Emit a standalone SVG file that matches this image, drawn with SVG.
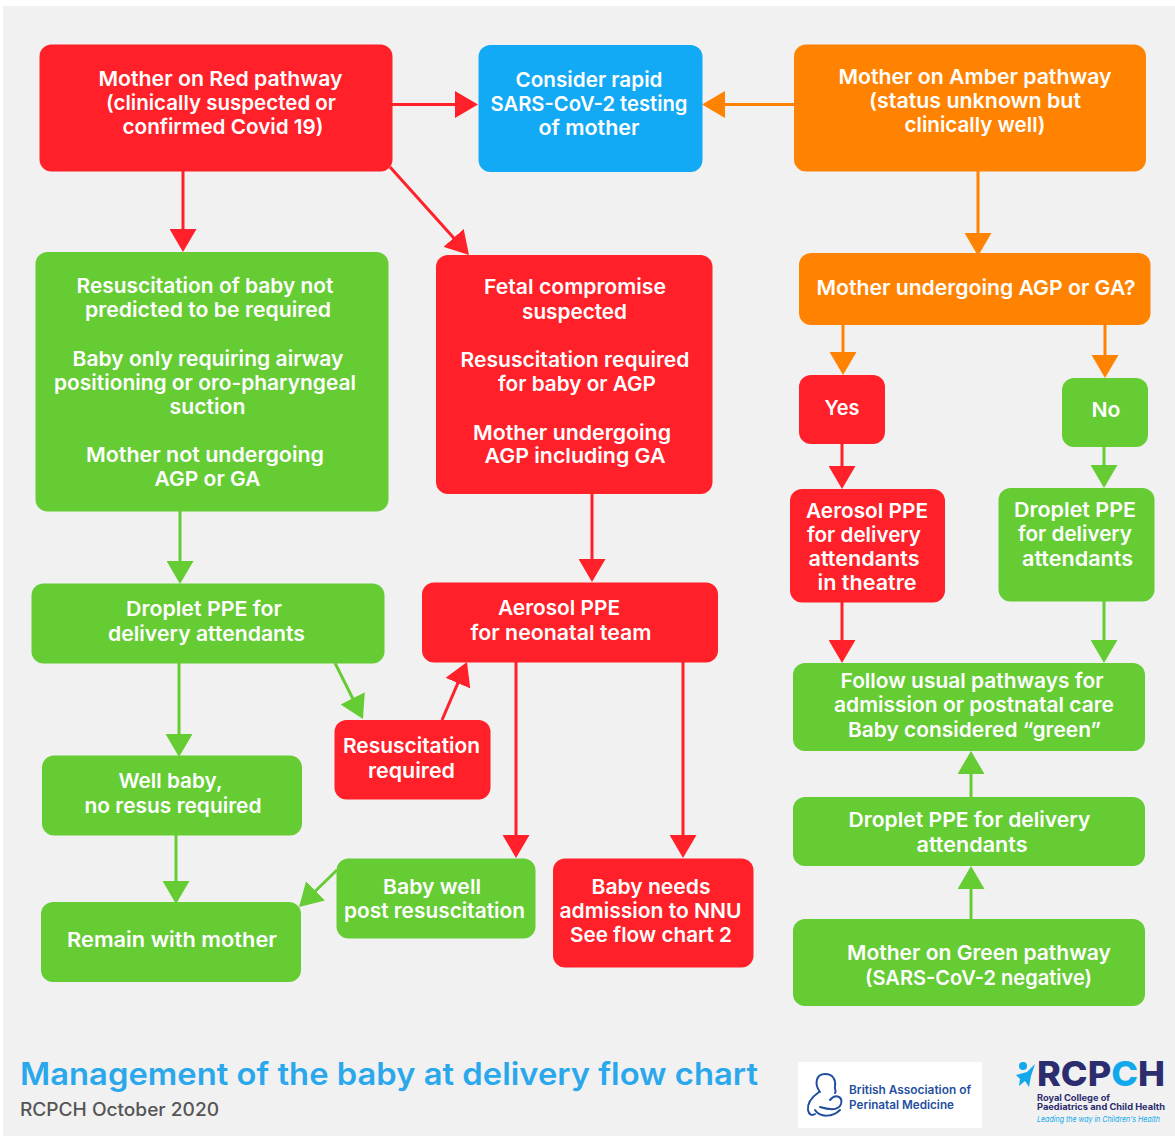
<svg xmlns="http://www.w3.org/2000/svg" width="1175" height="1136" viewBox="0 0 1175 1136">
<style>
.r{fill:#ff2029}.b{fill:#12a9f5}.o{fill:#ff8300}.g{fill:#65cc34}
.t{font-family:Inter,"Open Sans","Liberation Sans",sans-serif;font-weight:600;font-size:20.5px;fill:#fff;text-anchor:middle}
.cr,.co,.cg{fill:none;stroke-width:3}
.cr{stroke:#ff2029}.co{stroke:#ff8300}.cg{stroke:#65cc34}
.cr{marker-end:url(#mr)}.co{marker-end:url(#mo)}.cg{marker-end:url(#mg)}
.l{font-family:Inter,"Open Sans","Liberation Sans",sans-serif}
.bl{fill:none;stroke:#1f4f9e;stroke-width:2;stroke-linecap:round}
</style>
<defs>
<marker id="mr" markerUnits="userSpaceOnUse" viewBox="0 0 23 27" markerWidth="23" markerHeight="27" refX="13" refY="13.5" orient="auto"><path d="M0 0L23 13.500L0 27Z" fill="#ff2029"/></marker>
<marker id="mo" markerUnits="userSpaceOnUse" viewBox="0 0 23 27" markerWidth="23" markerHeight="27" refX="13" refY="13.5" orient="auto"><path d="M0 0L23 13.500L0 27Z" fill="#ff8300"/></marker>
<marker id="mg" markerUnits="userSpaceOnUse" viewBox="0 0 23 27" markerWidth="23" markerHeight="27" refX="13" refY="13.5" orient="auto"><path d="M0 0L23 13.500L0 27Z" fill="#65cc34"/></marker>
</defs>
<rect width="1175" height="1136" fill="#fff"/>
<rect x="3" y="6" width="1172" height="1130" fill="#f1f1f1"/>
<g id="connectors">
<path class="cr" d="M392 104.500H468"/>
<path class="co" d="M794 104.500H712"/>
<path class="cr" d="M183 171V242"/>
<path class="cr" d="M390 167L462.300 247.600"/>
<path class="co" d="M978 171V246"/>
<path class="co" d="M843 325V365"/>
<path class="co" d="M1105 325V368"/>
<path class="cr" d="M842 444V479"/>
<path class="cg" d="M1104 447V478"/>
<path class="cr" d="M842 602V653"/>
<path class="cg" d="M1104 601V653"/>
<path class="cg" d="M971 797V761"/>
<path class="cg" d="M971 919V876"/>
<path class="cg" d="M180 511V574"/>
<path class="cg" d="M179 663V747"/>
<path class="cg" d="M335 663L358.500 710"/>
<path class="cr" d="M442 720L463 671.200"/>
<path class="cr" d="M592 494V572"/>
<path class="cr" d="M516 662V848"/>
<path class="cr" d="M683 662V848"/>
<path class="cg" d="M176 835V894"/>
<path class="cg" d="M337 870L306.200 900"/>
</g>
<g id="red-pathway"><rect class="r" x="39.500" y="44.500" width="353" height="127" rx="12"/>
<text class="t" x="220.500" y="86" textLength="244" lengthAdjust="spacingAndGlyphs">Mother on Red pathway</text>
<text class="t" x="221" y="110" textLength="230" lengthAdjust="spacingAndGlyphs">(clinically suspected or</text>
<text class="t" x="223" y="134" textLength="201" lengthAdjust="spacingAndGlyphs">confirmed Covid 19)</text></g>
<g id="rapid-testing"><rect class="b" x="478.500" y="45" width="224" height="127" rx="12"/>
<text class="t" x="589" y="87" textLength="147" lengthAdjust="spacingAndGlyphs">Consider rapid</text>
<text class="t" x="589" y="111" textLength="197" lengthAdjust="spacingAndGlyphs">SARS-CoV-2 testing</text>
<text class="t" x="589" y="135" textLength="101" lengthAdjust="spacingAndGlyphs">of mother</text></g>
<g id="amber-pathway"><rect class="o" x="794" y="44.500" width="352" height="127" rx="12"/>
<text class="t" x="975" y="84" textLength="273" lengthAdjust="spacingAndGlyphs">Mother on Amber pathway</text>
<text class="t" x="975" y="108" textLength="212" lengthAdjust="spacingAndGlyphs">(status unknown but</text>
<text class="t" x="975" y="132" textLength="141" lengthAdjust="spacingAndGlyphs">clinically well)</text></g>
<g id="resus-not-predicted"><rect class="g" x="35.500" y="252" width="353" height="259.500" rx="12"/>
<text class="t" x="205" y="293" textLength="257" lengthAdjust="spacingAndGlyphs">Resuscitation of baby not</text>
<text class="t" x="208" y="317" textLength="246" lengthAdjust="spacingAndGlyphs">predicted to be required</text>
<text class="t" x="208" y="366" textLength="271" lengthAdjust="spacingAndGlyphs">Baby only requiring airway</text>
<text class="t" x="205" y="390" textLength="302" lengthAdjust="spacingAndGlyphs">positioning or oro-pharyngeal</text>
<text class="t" x="207.500" y="414" textLength="76" lengthAdjust="spacingAndGlyphs">suction</text>
<text class="t" x="205" y="462" textLength="238" lengthAdjust="spacingAndGlyphs">Mother not undergoing</text>
<text class="t" x="207.500" y="486" textLength="106" lengthAdjust="spacingAndGlyphs">AGP or GA</text></g>
<g id="fetal-compromise"><rect class="r" x="436" y="255" width="276.500" height="239" rx="12"/>
<text class="t" x="575" y="294" textLength="182" lengthAdjust="spacingAndGlyphs">Fetal compromise</text>
<text class="t" x="574.500" y="319" textLength="105" lengthAdjust="spacingAndGlyphs">suspected</text>
<text class="t" x="575" y="367" textLength="229" lengthAdjust="spacingAndGlyphs">Resuscitation required</text>
<text class="t" x="577" y="391" textLength="158" lengthAdjust="spacingAndGlyphs">for baby or AGP</text>
<text class="t" x="572" y="440" textLength="198" lengthAdjust="spacingAndGlyphs">Mother undergoing</text>
<text class="t" x="575" y="463" textLength="181" lengthAdjust="spacingAndGlyphs">AGP including GA</text></g>
<g id="agp-question"><rect class="o" x="799" y="253" width="351.500" height="72" rx="12"/>
<text class="t" x="976" y="295" textLength="319" lengthAdjust="spacingAndGlyphs">Mother undergoing AGP or GA?</text></g>
<g id="yes"><rect class="r" x="799" y="375" width="86" height="69" rx="12"/>
<text class="t" x="842" y="415" textLength="35" lengthAdjust="spacingAndGlyphs">Yes</text></g>
<g id="no"><rect class="g" x="1062" y="378" width="86" height="69" rx="12"/>
<text class="t" x="1106" y="417" textLength="29" lengthAdjust="spacingAndGlyphs">No</text></g>
<g id="aerosol-theatre"><rect class="r" x="790" y="489" width="155" height="113.500" rx="12"/>
<text class="t" x="867" y="518" textLength="122" lengthAdjust="spacingAndGlyphs">Aerosol PPE</text>
<text class="t" x="864" y="542" textLength="114" lengthAdjust="spacingAndGlyphs">for delivery</text>
<text class="t" x="864" y="566" textLength="111" lengthAdjust="spacingAndGlyphs">attendants</text>
<text class="t" x="867" y="590" textLength="99" lengthAdjust="spacingAndGlyphs">in theatre</text></g>
<g id="droplet-right"><rect class="g" x="998.500" y="488" width="156" height="113.500" rx="12"/>
<text class="t" x="1075" y="517" textLength="122" lengthAdjust="spacingAndGlyphs">Droplet PPE</text>
<text class="t" x="1075" y="541" textLength="114" lengthAdjust="spacingAndGlyphs">for delivery</text>
<text class="t" x="1077.500" y="566" textLength="111" lengthAdjust="spacingAndGlyphs">attendants</text></g>
<g id="usual-pathways"><rect class="g" x="793" y="663" width="352" height="88" rx="12"/>
<text class="t" x="972" y="688" textLength="263" lengthAdjust="spacingAndGlyphs">Follow usual pathways for</text>
<text class="t" x="974" y="712" textLength="280" lengthAdjust="spacingAndGlyphs">admission or postnatal care</text>
<text class="t" x="974.500" y="737" textLength="253" lengthAdjust="spacingAndGlyphs">Baby considered “green”</text></g>
<g id="droplet-green"><rect class="g" x="793" y="797" width="352" height="69" rx="12"/>
<text class="t" x="969.500" y="827" textLength="242" lengthAdjust="spacingAndGlyphs">Droplet PPE for delivery</text>
<text class="t" x="972" y="852" textLength="111" lengthAdjust="spacingAndGlyphs">attendants</text></g>
<g id="green-pathway"><rect class="g" x="793" y="919" width="352" height="87" rx="12"/>
<text class="t" x="979" y="960" textLength="264" lengthAdjust="spacingAndGlyphs">Mother on Green pathway</text>
<text class="t" x="978.500" y="985" textLength="227" lengthAdjust="spacingAndGlyphs">(SARS-CoV-2 negative)</text></g>
<g id="droplet-left"><rect class="g" x="31.500" y="583.500" width="353" height="80" rx="12"/>
<text class="t" x="204" y="616" textLength="156" lengthAdjust="spacingAndGlyphs">Droplet PPE for</text>
<text class="t" x="206.500" y="641" textLength="197" lengthAdjust="spacingAndGlyphs">delivery attendants</text></g>
<g id="aerosol-neonatal"><rect class="r" x="422" y="582.500" width="296" height="80" rx="12"/>
<text class="t" x="559" y="615" textLength="122" lengthAdjust="spacingAndGlyphs">Aerosol PPE</text>
<text class="t" x="561" y="640" textLength="181" lengthAdjust="spacingAndGlyphs">for neonatal team</text></g>
<g id="resus-required"><rect class="r" x="334.500" y="720" width="156" height="79.500" rx="12"/>
<text class="t" x="411.500" y="753" textLength="137" lengthAdjust="spacingAndGlyphs">Resuscitation</text>
<text class="t" x="411.500" y="778" textLength="87" lengthAdjust="spacingAndGlyphs">required</text></g>
<g id="well-baby"><rect class="g" x="42" y="755.500" width="260" height="80" rx="12"/>
<text class="t" x="170.500" y="788" textLength="104" lengthAdjust="spacingAndGlyphs">Well baby,</text>
<text class="t" x="173" y="813" textLength="177" lengthAdjust="spacingAndGlyphs">no resus required</text></g>
<g id="remain"><rect class="g" x="41" y="902" width="260" height="80" rx="12"/>
<text class="t" x="172" y="947" textLength="210" lengthAdjust="spacingAndGlyphs">Remain with mother</text></g>
<g id="baby-well"><rect class="g" x="336.500" y="858.500" width="199" height="80" rx="12"/>
<text class="t" x="432" y="894" textLength="98" lengthAdjust="spacingAndGlyphs">Baby well</text>
<text class="t" x="434.500" y="918" textLength="181" lengthAdjust="spacingAndGlyphs">post resuscitation</text></g>
<g id="baby-needs"><rect class="r" x="553" y="858.500" width="200.500" height="109" rx="12"/>
<text class="t" x="651" y="894" textLength="119" lengthAdjust="spacingAndGlyphs">Baby needs</text>
<text class="t" x="650.500" y="918" textLength="182" lengthAdjust="spacingAndGlyphs">admission to NNU</text>
<text class="t" x="651" y="942" textLength="162" lengthAdjust="spacingAndGlyphs">See flow chart 2</text></g>
<g id="footer">
<text class="l" x="20" y="1085" font-size="31" font-weight="600" fill="#2ba8ec" textLength="738" lengthAdjust="spacingAndGlyphs">Management of the baby at delivery flow chart</text>
<text class="l" x="20" y="1116" font-size="18" font-weight="500" fill="#555" textLength="199" lengthAdjust="spacingAndGlyphs">RCPCH October 2020</text>
</g>
<g id="bapm-logo">
<rect x="798" y="1062" width="184" height="66" fill="#fff"/>
<path class="bl" d="M820 1092C814 1084 816 1074 825 1074C833 1074 836 1080 835 1086C834 1090 837 1091 835 1093"/>
<path class="bl" d="M819 1092C812 1097 807 1103 808 1110C809 1115 812 1116 815 1114"/>
<path class="bl" d="M830 1100C836 1093 843 1097 841 1104C839 1110 830 1110 820 1107"/>
<path class="bl" d="M815 1110C820 1118 833 1117 840 1110"/>
<text class="l" x="849" y="1094" font-size="11.500" font-weight="600" fill="#1f4f9e" textLength="122" lengthAdjust="spacingAndGlyphs">British Association of</text>
<text class="l" x="849" y="1109" font-size="11.500" font-weight="600" fill="#1f4f9e" textLength="105" lengthAdjust="spacingAndGlyphs">Perinatal Medicine</text>
</g>
<g id="rcpch-logo">
<circle cx="1023" cy="1066" r="4" fill="#12a9ec"/>
<path d="M1016 1075L1027 1072L1035 1064L1031 1076L1029 1087L1025 1081L1019 1086L1020 1079Z" fill="#12a9ec"/>
<text class="l" x="1037" y="1086" font-size="34" font-weight="800" fill="#2b2d6e" textLength="128" lengthAdjust="spacingAndGlyphs">RCP<tspan fill="#12a9ec">C</tspan>H</text>
<text class="l" x="1037" y="1100.500" font-size="8.500" font-weight="700" fill="#2b2d6e" textLength="73" lengthAdjust="spacingAndGlyphs">Royal College of</text>
<text class="l" x="1037" y="1109.500" font-size="8.500" font-weight="700" fill="#2b2d6e" textLength="128" lengthAdjust="spacingAndGlyphs">Paediatrics and Child Health</text>
<text class="l" x="1037" y="1122" font-size="8" font-style="italic" fill="#12a9ec" textLength="123" lengthAdjust="spacingAndGlyphs">Leading the way in Children's Health</text>
</g>
</svg>
